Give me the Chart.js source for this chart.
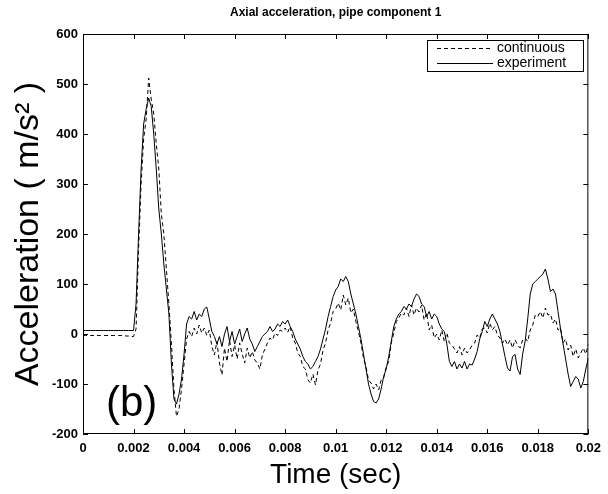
<!DOCTYPE html>
<html lang="en">
<head>
<meta charset="UTF-8">
<title>Axial acceleration, pipe component 1</title>
<script src="https://cdn.jsdelivr.net/npm/chart.js"></script>
<style>
    html, body { margin: 0; padding: 0; background: #fff; }
    #wrap { width: 608px; height: 494px; position: relative; }
</style>
</head>
<body>
<div id="wrap"><canvas id="accChart"></canvas></div>
<script>
    // sample spacing of both records (sec)
    const dt = 0.0001;

    // continuous model, m/s^2, one value every dt from t = 0
    const continuous = [
        -3, -3, -3, -3, -3, -3, -3, -3, -3, -3,
        -3, -3, -3, -3, -3, -3, -3, -4, -4, -5,
        -5, 10, 170, 300, 390, 430, 512, 470, 440, 380,
        330, 240, 200, 130, 60, -20, -110, -165, -150, -110,
        -60, -10, 5, -5, 12, 0, 18, 2, 12, -3,
        8, -25, -42, -15, -58, -82, -28, -55, -12, -45,
        -22, -50, -18, -40, -58, -28, -48, -35, -52, -58,
        -70, -42, -30, -18, -8, -12, 2, -3, 8, 5,
        12, 3, 15, -8, -18, -38, -45, -65, -70, -92,
        -98, -80, -102, -72, -60, -32, -18, 8, 22, 45,
        50, 62, 48, 78, 58, 72, 42, 50, 25, 5,
        -18, -48, -65, -92, -98, -110, -100, -112, -92, -88,
        -65, -55, -18, 2, 25, 32, 42, 38, 52, 35,
        58, 38, 52, 44, 58, 28, 42, 8, 18, -8,
        0, -12, 8, -15, 2, -18, -22, -30, -38, -25,
        -42, -28, -38, -32, -22, -18, -2, -8, 10, 12,
        2, 22, 8, 15, -2, -8, -18, -10, -22, -12,
        -28, -12, -22, -28, -12, -8, -15, 8, 18, 38,
        35, 45, 32, 52, 38, 40, 22, 30, 8, 12,
        -18, -10, -32, -22, -45, -30, -48, -38, -28, -40,
        -20
    ];

    // measured record, m/s^2
    const experiment = [
        7, 7, 7, 7, 7, 7, 7, 7, 7, 7,
        7, 7, 7, 7, 7, 7, 7, 7, 7, 7,
        7, 60, 200, 330, 420, 450, 472, 455, 400, 330,
        250, 200, 140, 90, 40, -60, -130, -140, -120, -90,
        -40, 20, 35, 30, 45, 28, 40, 35, 50, 54,
        30, 5, -5, -20, -5, -25, 0, 15, -15, 5,
        -20, -5, 10, -15, 0, 12, -10, -20, -35, -25,
        -15, -5, 0, 5, 15, 5, 10, 20, 15, 25,
        20, 28, 15, 5, -10, -20, -30, -45, -55, -60,
        -70, -65, -55, -45, -30, -10, 10, 35, 55, 75,
        88, 95, 110, 105, 115, 105, 80, 60, 40, 15,
        -10, -40, -70, -100, -120, -135, -138, -130, -110, -85,
        -70, -45, -15, 15, 30, 40, 45, 55, 50, 60,
        55, 70, 80, 75, 60, 55, 35, 45, 30, 40,
        35, 20, 10, 5, -20, -55, -65, -55, -70, -60,
        -68, -55, -70, -60, -62, -50, -35, -10, 5, 25,
        15, 30, 40, 30, 20, 5, -20, -45, -68, -74,
        -45, -41, -70, -81, -40, -14, 30, 80, 100, 105,
        110, 115, 120, 130, 110, 85, 90, 80, 45, 10,
        -20, -50, -80, -105, -95, -85, -90, -108, -95, -70,
        -48
    ];

    const xTicks = [0, 0.002, 0.004, 0.006, 0.008, 0.01, 0.012, 0.014, 0.016, 0.018, 0.02];
    const xTickLabels = ['0', '0.002', '0.004', '0.006', '0.008', '0.01', '0.012', '0.014', '0.016', '0.018', '0.02'];
    const yTicks = [-200, -100, 0, 100, 200, 300, 400, 500, 600];

    const FONT = "'Liberation Sans', Arial, Helvetica, sans-serif";

    const toPoints = arr => arr.map((v, i) => ({ x: i * dt, y: v }));

    // matlab style box: frame, inward ticks, title, legend and panel tag
    const matlabBox = {
        id: 'matlabBox',
        afterDraw(chart) {
            const { ctx, chartArea: { left, right, top, bottom }, scales: { x, y } } = chart;
            ctx.save();
            ctx.strokeStyle = '#000';
            ctx.lineWidth = 1;
            ctx.strokeRect(left + 0.5, top + 0.5, right - left - 1, bottom - top - 1);

            ctx.beginPath();
            xTicks.forEach(v => {
                const px = Math.round(x.getPixelForValue(v)) + 0.5;
                ctx.moveTo(px, bottom); ctx.lineTo(px, bottom - 5);
                ctx.moveTo(px, top); ctx.lineTo(px, top + 5);
            });
            yTicks.forEach(v => {
                const py = Math.round(y.getPixelForValue(v)) + 0.5;
                ctx.moveTo(left, py); ctx.lineTo(left + 5, py);
                ctx.moveTo(right, py); ctx.lineTo(right - 5, py);
            });
            ctx.stroke();

            // title
            ctx.fillStyle = '#000';
            ctx.font = 'bold 12px ' + FONT;
            ctx.textAlign = 'center';
            ctx.textBaseline = 'middle';
            ctx.fillText('Axial acceleration, pipe component 1', (left + right) / 2, 13);

            // legend
            const lx = 427, ly = 40, lw = 156, lh = 31;
            ctx.fillStyle = '#fff';
            ctx.fillRect(lx, ly, lw, lh);
            ctx.strokeRect(lx + 0.5, ly + 0.5, lw, lh);
            ctx.font = '14px ' + FONT;
            ctx.textAlign = 'left';
            chart.data.datasets.forEach((ds, i) => {
                const yy = ly + 8.5 + i * 15;
                ctx.beginPath();
                ctx.setLineDash(ds.borderDash || []);
                ctx.moveTo(lx + 10, yy); ctx.lineTo(lx + 66, yy);
                ctx.stroke();
                ctx.setLineDash([]);
                ctx.fillStyle = '#000';
                ctx.fillText(ds.label, lx + 70, yy);
            });

            // panel tag
            ctx.font = '42px ' + FONT;
            ctx.fillText('(b)', 106, 404);
            ctx.restore();
        }
    };

    new Chart(document.getElementById('accChart'), {
        type: 'line',
        data: {
            datasets: [
                {
                    label: 'continuous',
                    data: toPoints(continuous),
                    borderColor: '#000',
                    borderWidth: 1,
                    borderDash: [4, 3],
                    pointRadius: 0,
                    tension: 0,
                    fill: false
                },
                {
                    label: 'experiment',
                    data: toPoints(experiment),
                    borderColor: '#000',
                    borderWidth: 1,
                    pointRadius: 0,
                    tension: 0,
                    fill: false
                }
            ]
        },
        options: {
            responsive: true,
            maintainAspectRatio: false,
            animation: false,
            layout: { padding: { top: 34, right: 18, left: 0, bottom: 0 } },
            plugins: {
                legend: { display: false },
                title: { display: false },
                tooltip: { enabled: false }
            },
            scales: {
                x: {
                    type: 'linear',
                    min: 0,
                    max: 0.02,
                    afterBuildTicks: s => { s.ticks = xTicks.map(v => ({ value: v })); },
                    afterFit: s => { s.height = 60; },
                    grid: { display: false, drawTicks: false },
                    border: { display: false },
                    ticks: {
                        color: '#000',
                        padding: 7,
                        maxRotation: 0,
                        autoSkip: false,
                        font: { family: FONT, size: 13, weight: 'bold' },
                        callback: (v, i) => xTickLabels[i]
                    },
                    title: {
                        display: true,
                        text: 'Time (sec)',
                        color: '#000',
                        font: { family: FONT, size: 28 },
                        padding: { top: 0, bottom: 2 }
                    }
                },
                y: {
                    min: -200,
                    max: 600,
                    afterBuildTicks: s => { s.ticks = yTicks.map(v => ({ value: v })); },
                    afterFit: s => { s.width = 83; },
                    grid: { display: false, drawTicks: false },
                    border: { display: false },
                    ticks: {
                        color: '#000',
                        padding: 5,
                        font: { family: FONT, size: 13, weight: 'bold' }
                    },
                    title: {
                        display: true,
                        text: 'Acceleration ( m/s\u00B2 )',
                        color: '#000',
                        font: { family: FONT, size: 34 },
                        padding: { top: 8, bottom: 0 }
                    }
                }
            }
        },
        plugins: [matlabBox]
    });
</script>
</body>
</html>
